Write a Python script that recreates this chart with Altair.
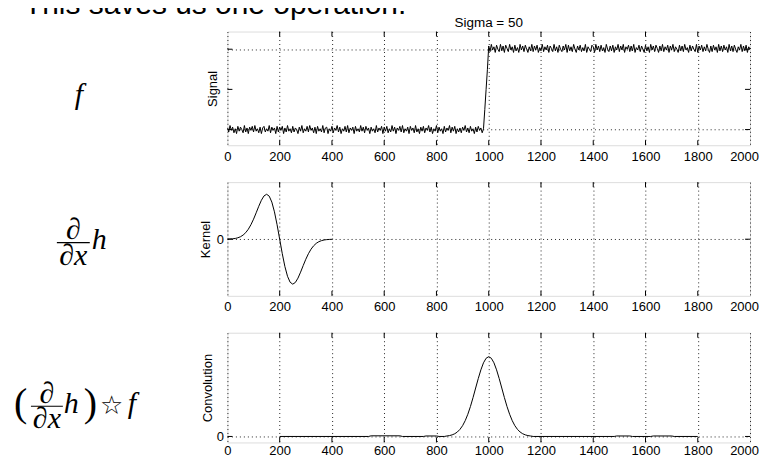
import altair as alt
import pandas as pd

# ---------------- text ----------------
TOP_TEXT = "This saves us one operation:"
TITLE = "Sigma = 50"
Y_TITLES = ["Signal", "Kernel", "Convolution"]
MATH_F = "f"
MATH_D = "∂"
MATH_DX = "∂x"
MATH_H = "h"
MATH_LP = "("
MATH_RP = ")"
MATH_STAR = "☆"

# ---------------- ticks ----------------
X_TICKS = [0, 200, 400, 600, 800, 1000, 1200, 1400, 1600, 1800, 2000]
INNER_X_TICKS = [200, 400, 600, 800, 1000, 1200, 1400, 1600, 1800]
SIGNAL_Y_TICKS = [0, 0.5, 1]
ZERO_TICK = [0]

# ---------------- data ----------------
# noisy step signal: x = 0..980 step 5 (low), 985..995 (ramp), 1000..2000 step 5 (high)
signal_low = [
    0.02, -0.03, 0.05, -0.01, 0.03, -0.04, 0.01, -0.05, 0.04, -0.02, 0.03, 0.00, -0.04, 0.05, -0.03, 0.02, -0.05, 0.03, -0.01, 0.04,
    -0.03, 0.05, -0.02, 0.01, -0.04, 0.03, -0.05, 0.02, 0.04, -0.03, 0.01, -0.02, 0.05, -0.04, 0.03, -0.01, 0.02, -0.05, 0.04, -0.03,
    0.03, -0.01, 0.04, -0.05, 0.02, -0.03, 0.05, -0.02, 0.01, -0.04, 0.04, -0.03, 0.02, 0.00, -0.05, 0.03, -0.02, 0.05, -0.04, 0.01,
    -0.02, 0.04, -0.03, 0.05, -0.01, 0.02, -0.04, 0.03, -0.05, 0.04, -0.02, 0.01, -0.03, 0.05, -0.04, 0.02, 0.03, -0.05, 0.01, -0.02,
    0.04, -0.04, 0.02, -0.01, 0.05, -0.03, 0.03, -0.05, 0.01, -0.02, 0.04, -0.03, 0.05, -0.04, 0.02, -0.01, 0.03, -0.05, 0.04, -0.02,
    0.01, -0.03, 0.05, -0.02, 0.03, -0.04, 0.04, -0.01, 0.02, -0.05, 0.03, -0.02, 0.01, -0.04, 0.05, -0.03, 0.02, -0.01, 0.04, -0.05,
    0.03, -0.02, 0.04, -0.04, 0.01, -0.03, 0.05, -0.02, 0.03, -0.05, 0.02, -0.01, 0.04, -0.03, 0.05, -0.04, 0.01, -0.02, 0.03, -0.05,
    0.04, -0.01, 0.02, -0.04, 0.05, -0.03, 0.01, -0.05, 0.03, -0.02, 0.04, -0.04, 0.02, -0.01, 0.05, -0.03, 0.03, -0.05, 0.01, -0.02,
    0.05, -0.04, 0.03, -0.02, 0.01, -0.05, 0.04, -0.03, 0.02, -0.01, 0.05, -0.04, 0.03, -0.02, 0.04, -0.05, 0.01, -0.03, 0.02, -0.04,
    0.03, -0.01, 0.05, -0.03, 0.02, -0.04, 0.04, -0.02, 0.01, -0.05, 0.03, -0.03, 0.04, -0.01, 0.02, -0.04, 0.01,
]
signal_ramp = [0.25, 0.5, 0.75]
signal_high = [
    1.04, 0.97, 1.06, 0.99, 1.03, 0.96, 1.05, 1.00, 0.97, 1.06, 0.98, 1.04, 0.96, 1.05, 1.01, 0.97, 1.06, 0.99, 1.03, 0.96,
    1.05, 0.98, 1.02, 0.96, 1.06, 0.99, 1.04, 0.97, 1.05, 1.00, 0.96, 1.03, 0.98, 1.06, 0.97, 1.04, 0.99, 1.05, 0.96, 1.02,
    0.98, 1.06, 0.97, 1.03, 0.99, 1.05, 0.96, 1.04, 1.01, 0.97, 1.06, 0.98, 1.03, 0.96, 1.05, 1.00, 0.97, 1.04, 0.99, 1.06,
    0.96, 1.05, 0.98, 1.03, 0.97, 1.06, 1.00, 0.96, 1.04, 0.99, 1.05, 0.97, 1.02, 0.98, 1.06, 0.96, 1.03, 1.00, 0.97, 1.05,
    1.03, 0.96, 1.06, 0.99, 1.04, 0.97, 1.05, 0.98, 1.02, 0.96, 1.06, 1.00, 0.97, 1.04, 0.98, 1.05, 0.96, 1.03, 0.99, 1.06,
    0.97, 1.04, 0.99, 1.06, 0.96, 1.03, 1.00, 1.05, 0.97, 1.04, 0.98, 1.06, 0.96, 1.02, 0.99, 1.05, 0.97, 1.04, 1.00, 0.96,
    1.05, 0.98, 1.03, 0.96, 1.06, 0.99, 1.04, 0.97, 1.05, 1.01, 0.96, 1.04, 0.98, 1.06, 0.97, 1.03, 0.99, 1.05, 0.96, 1.04,
    0.99, 1.06, 0.97, 1.03, 1.00, 0.96, 1.05, 0.98, 1.04, 0.97, 1.06, 0.99, 1.02, 0.96, 1.05, 0.98, 1.04, 1.00, 0.97, 1.06,
    0.96, 1.04, 0.99, 1.05, 0.97, 1.03, 0.98, 1.06, 1.00, 0.96, 1.04, 0.97, 1.05, 0.99, 1.03, 0.96, 1.06, 0.98, 1.04, 0.97,
    1.05, 0.99, 1.03, 0.96, 1.06, 0.98, 1.04, 0.97, 1.05, 1.00, 0.96, 1.03, 0.99, 1.06, 0.97, 1.04, 0.98, 1.05, 0.96, 1.03,
    1.00,
]

# derivative-of-Gaussian kernel, x = 0..400 step 10
kernel_vals = [
    0.002, 0.005, 0.009, 0.017, 0.032, 0.055, 0.092, 0.146, 0.222, 0.323,
    0.446, 0.587, 0.733, 0.866, 0.963, 1.0, 0.958, 0.826, 0.609, 0.323,
    0.0,
    -0.323, -0.609, -0.826, -0.958, -1.0, -0.963, -0.866, -0.733, -0.587,
    -0.446, -0.323, -0.222, -0.146, -0.092, -0.055, -0.032, -0.017, -0.009,
    -0.005, -0.002,
]

# convolution result
conv_x = [200, 540, 550, 660, 670, 750, 760, 800, 810, 830,
          840, 850, 860, 870, 880, 890, 900, 910, 920, 930, 940, 950, 960, 970,
          980, 990, 1000, 1010, 1020, 1030, 1040, 1050, 1060, 1070, 1080, 1090,
          1100, 1110, 1120, 1130, 1140, 1150, 1160,
          1170, 1480, 1490, 1540, 1550, 1620, 1630, 1700, 1710, 1800]
conv_y = [0.0, 0.0, 0.008, 0.008, 0.0, 0.0, 0.006, 0.006, 0.0, 0.0,
          0.006, 0.011, 0.020, 0.034, 0.056, 0.089, 0.135, 0.198, 0.278, 0.375,
          0.487, 0.607, 0.726, 0.835, 0.923, 0.980, 1.0, 0.980, 0.923, 0.835,
          0.726, 0.607, 0.487, 0.375, 0.278, 0.198, 0.135, 0.089, 0.056, 0.034,
          0.020, 0.011, 0.006,
          0.0, 0.0, 0.006, 0.006, 0.0, 0.0, 0.006, 0.006, 0.0, 0.0]

sig_x = ([i * 5 for i in range(len(signal_low))] + [985, 990, 995]
         + [1000 + i * 5 for i in range(len(signal_high))])
sig_y = signal_low + signal_ramp + signal_high
ker_x = [i * 10 for i in range(len(kernel_vals))]

df_sig = pd.DataFrame({"x": sig_x, "y": sig_y})
df_ker = pd.DataFrame({"x": ker_x, "y": kernel_vals})
df_conv = pd.DataFrame({"x": conv_x, "y": conv_y})
df_xt = pd.DataFrame({"x": INNER_X_TICKS})
one = pd.DataFrame({"t": [0]})

W = 524
H1, H2, H3 = 114, 114, 110
SANS = "Liberation Sans"
SERIF = "Liberation Serif"
FS = 13

# keep the last tick label inside the visible page
LAST_LABEL_SHIFT = {"condition": {"test": "datum.value == 2000", "value": -6}, "value": 0}


def x_enc(label_pad):
    return alt.X(
        "x:Q", title=None,
        scale=alt.Scale(domain=[0, 2000], nice=False, zero=False),
        axis=alt.Axis(values=X_TICKS, format="d", labelFontSize=FS, labelFont=SANS,
                      labelColor="black", labelPadding=label_pad, ticks=False, tickSize=0,
                      domain=False, grid=True, gridColor="black", gridDash=[1, 3],
                      gridOpacity=0.85, labelFlush=False, labelOverlap=False,
                      labelOffset=LAST_LABEL_SHIFT),
    )


def y_enc(domain, ticks, labels, title, title_x, h):
    return alt.Y(
        "y:Q",
        scale=alt.Scale(domain=domain, nice=False, zero=False),
        axis=alt.Axis(values=ticks, labels=labels, format="d", labelFontSize=FS,
                      labelFont=SANS, labelColor="black", labelPadding=4,
                      ticks=False, tickSize=0, domain=False, grid=True,
                      gridColor="black", gridDash=[1, 3], gridOpacity=0.85,
                      title=title, titleX=title_x, titleY=h / 2, titleAngle=270,
                      titleBaseline="middle", titleFont=SANS, titleFontSize=FS,
                      titleFontWeight="normal", titleColor="black"),
    )


def text_layer(txt, x, y, size, font=SERIF, style="italic", align="left", baseline="alphabetic"):
    return alt.Chart(pd.DataFrame({"t": [txt]})).mark_text(
        font=font, fontSize=size, fontStyle=style, align=align, baseline=baseline, color="black"
    ).encode(text="t:N", x=alt.value(x), y=alt.value(y))


def frac_line(x1, x2, y):
    return alt.Chart(one).mark_rule(color="black", strokeWidth=1.1).encode(
        x=alt.value(x1), x2=alt.value(x2), y=alt.value(y))


def panel(df, domain, yticks, labels, title, title_x, h, extras, label_pad=5):
    xe = x_enc(label_pad)
    ye = y_enc(domain, yticks, labels, title, title_x, h)
    line = alt.Chart(df).mark_line(color="black", strokeWidth=1, clip=True).encode(x=xe, y=ye)
    df_yt = pd.DataFrame({"y": yticks})
    tick_top = alt.Chart(df_xt).mark_rule(color="black").encode(x=xe, y=alt.value(0), y2=alt.value(5))
    tick_bot = alt.Chart(df_xt).mark_rule(color="black").encode(x=xe, y=alt.value(h), y2=alt.value(h - 5))
    tick_l = alt.Chart(df_yt).mark_rule(color="black").encode(y=ye, x=alt.value(0), x2=alt.value(5))
    tick_r = alt.Chart(df_yt).mark_rule(color="black").encode(y=ye, x=alt.value(W), x2=alt.value(W - 5))
    return alt.layer(line, tick_top, tick_bot, tick_l, tick_r, *extras).properties(width=W, height=h)


p1 = panel(
    df_sig, [-0.195, 1.22], SIGNAL_Y_TICKS, False, Y_TITLES[0], -15, H1,
    [
        text_layer(TOP_TEXT, -204, -42, 30, font=SANS, style="normal", baseline="top"),
        text_layer(TITLE, W / 2, -5, 13.5, font=SANS, style="normal", align="center"),
        text_layer(MATH_F, -153, 73, 30),
    ],
)

p2 = panel(
    df_ker, [-1.26, 1.27], ZERO_TICK, True, Y_TITLES[1], -22, H2,
    [
        text_layer(MATH_D, -154.5, 57, 30, align="center"),
        frac_line(-171, -138, 60.7),
        text_layer(MATH_DX, -154.5, 83, 30, align="center"),
        text_layer(MATH_H, -136, 67, 30),
    ],
)

p3 = panel(
    df_conv, [-0.075, 1.3], ZERO_TICK, True, Y_TITLES[2], -20, H3,
    [
        text_layer(MATH_LP, -214, 83, 40, style="normal"),
        text_layer(MATH_D, -181, 70, 30, align="center"),
        frac_line(-197, -165, 73.7),
        text_layer(MATH_DX, -181, 96, 30, align="center"),
        text_layer(MATH_H, -164, 80, 30),
        text_layer(MATH_RP, -144, 83, 40, style="normal"),
        text_layer(MATH_STAR, -116, 73, 26, font="DejaVu Sans", style="normal",
                   align="center", baseline="middle"),
        text_layer(MATH_F, -100, 80, 30),
    ],
    label_pad=2,
)

chart = (
    alt.vconcat(p1, p2, p3, spacing=17)
    .properties(padding={"left": 5, "top": -20, "right": 1, "bottom": -3})
    .configure_view(stroke="black", strokeWidth=1)
    .configure(background="white")
)

chart.save("out.html", embed_options={"renderer": "svg", "actions": False})
